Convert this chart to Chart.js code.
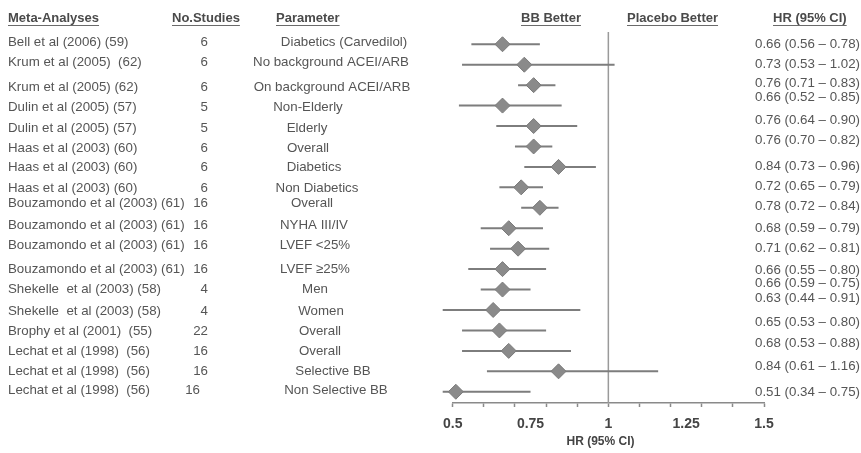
<!DOCTYPE html>
<html>
<head>
<meta charset="utf-8">
<script src="https://cdn.jsdelivr.net/npm/chart.js@4"></script>
<style>
  html, body { margin: 0; padding: 0; background: #ffffff; }
  #wrap { width: 861px; height: 453px; position: relative; }
</style>
</head>
<body>
<div id="wrap"><canvas id="c" width="861" height="453"></canvas></div>
<script>
// ---------- DATA ----------
const studies = [
  "Bell et al (2006) (59)", "Krum et al (2005)  (62)", "Krum et al (2005) (62)",
  "Dulin et al (2005) (57)", "Dulin et al (2005) (57)", "Haas et al (2003) (60)",
  "Haas et al (2003) (60)", "Haas et al (2003) (60)", "Bouzamondo et al (2003) (61)",
  "Bouzamondo et al (2003) (61)", "Bouzamondo et al (2003) (61)", "Bouzamondo et al (2003) (61)",
  "Shekelle  et al (2003) (58)", "Shekelle  et al (2003) (58)", "Brophy et al (2001)  (55)",
  "Lechat et al (1998)  (56)", "Lechat et al (1998)  (56)", "Lechat et al (1998)  (56)"
];
const nStudies = [6, 6, 6, 5, 5, 6, 6, 6, 16, 16, 16, 16, 4, 4, 22, 16, 16, 16];
const parameters = [
  "Diabetics (Carvedilol)", "No background ACEI/ARB", "On background ACEI/ARB",
  "Non-Elderly", "Elderly", "Overall", "Diabetics", "Non Diabetics", "Overall",
  "NYHA III/IV", "LVEF <25%", "LVEF \u226525%", "Men", "Women", "Overall", "Overall",
  "Selective BB", "Non Selective BB"
];
const hr    = [0.66, 0.73, 0.76, 0.66, 0.76, 0.76, 0.84, 0.72, 0.78, 0.68, 0.71, 0.66, 0.66, 0.63, 0.65, 0.68, 0.84, 0.51];
const ciLow = [0.56, 0.53, 0.71, 0.52, 0.64, 0.70, 0.73, 0.65, 0.72, 0.59, 0.62, 0.55, 0.59, 0.44, 0.53, 0.53, 0.61, 0.34];
const ciHigh= [0.78, 1.02, 0.83, 0.85, 0.90, 0.82, 0.96, 0.79, 0.84, 0.79, 0.81, 0.80, 0.75, 0.91, 0.80, 0.88, 1.16, 0.75];
const xTickValues  = [0.5, 0.6, 0.7, 0.75, 0.8, 0.9, 1, 1.1, 1.2, 1.25, 1.3, 1.4, 1.5];
const xTickLabels  = [0.5, 0.75, 1, 1.25, 1.5];
const xAxisTitle = "HR (95% CI)";
const headers = ["Meta-Analyses", "No.Studies", "Parameter", "BB Better", "Placebo Better", "HR (95% CI)"];

// ---------- LAYOUT (text nudges, px) ----------
const headerX = [8, 172, 276, 521, 627, 773];
const leftNudge = [-2, -2, 2, 2, 2, 1.5, 0, 0.5, -4, -3, -3, 0, 0, 1, 0.5, 0, 0, -1];
const hrNudge   = [0, 0, -2, -8, -6, -6.5, -1, -1.5, -1, 0, 0, 1, -6, -12, -8, -8, -4.5, 1];
const paramCenter = [344, 331, 332, 308, 307, 308, 314, 317, 312, 314, 315, 315, 315, 321, 320, 320, 333, 336];
const countRight = [208, 208, 208, 208, 208, 208, 208, 208, 208, 208, 208, 208, 208, 208, 208, 208, 208, 200];

const FONT = '"Liberation Sans", Arial, Helvetica, sans-serif';
const TEXT = '#555555';
const LINE = '#7d7d7d';

const ciDatasets = hr.map((v, i) => ({
  type: 'line',
  data: [{ x: ciLow[i], y: i }, { x: ciHigh[i], y: i }],
  borderColor: LINE,
  borderWidth: 2,
  pointRadius: 0,
  pointHoverRadius: 0,
  clip: { left: 10, right: 0, top: false, bottom: false },
  order: 2
}));

const diamondDataset = {
  type: 'scatter',
  data: hr.map((v, i) => ({ x: v, y: i })),
  pointStyle: 'rectRot',
  pointRadius: 7.5,
  pointHoverRadius: 7.5,
  backgroundColor: '#8a8a8a',
  borderColor: '#7a7a7a',
  borderWidth: 1,
  clip: { left: 10, right: 0, top: false, bottom: false },
  order: 1
};

const textPlugin = {
  id: 'forestText',
  beforeDatasetsDraw(chart) {
    const ctx = chart.ctx;
    const xs = chart.scales.x, a = chart.chartArea;
    ctx.save();
    ctx.strokeStyle = '#9a9a9a';
    ctx.lineWidth = 1.5;
    const x1 = xs.getPixelForValue(1);
    ctx.beginPath();
    ctx.moveTo(x1, a.top);
    ctx.lineTo(x1, a.bottom);
    ctx.stroke();
    ctx.restore();
  },
  afterDraw(chart) {
    const ctx = chart.ctx;
    const ys = chart.scales.y;
    ctx.save();
    // headers
    ctx.font = 'bold 13px ' + FONT;
    ctx.fillStyle = '#4a4a4a';
    ctx.textBaseline = 'middle';
    ctx.textAlign = 'left';
    headers.forEach((h, i) => {
      ctx.fillText(h, headerX[i], 18);
      const w = ctx.measureText(h).width;
      ctx.strokeStyle = '#6a6a6a';
      ctx.lineWidth = 1;
      ctx.beginPath();
      ctx.moveTo(headerX[i], 25.5);
      ctx.lineTo(headerX[i] + w, 25.5);
      ctx.stroke();
    });
    // axis title
    ctx.font = 'bold 12px ' + FONT;
    ctx.fillStyle = '#444444';
    ctx.textAlign = 'center';
    ctx.fillText(xAxisTitle, 600.5, 442);
    // rows
    ctx.font = '13.3px ' + FONT;
    ctx.fillStyle = TEXT;
    studies.forEach((s, i) => {
      const y = ys.getPixelForValue(i);
      const yl = y + leftNudge[i];
      ctx.textAlign = 'left';
      ctx.fillText(s, 8, yl);
      ctx.textAlign = 'right';
      ctx.fillText(String(nStudies[i]), countRight[i], yl);
      ctx.textAlign = 'center';
      ctx.fillText(parameters[i], paramCenter[i], yl);
      ctx.textAlign = 'left';
      const t = hr[i].toFixed(2) + ' (' + ciLow[i].toFixed(2) + ' \u2013 ' + ciHigh[i].toFixed(2) + ')';
      ctx.fillText(t, 755, y + hrNudge[i]);
    });
    ctx.restore();
  }
};

new Chart(document.getElementById('c'), {
  type: 'scatter',
  data: { datasets: [...ciDatasets, diamondDataset] },
  options: {
    responsive: false,
    animation: false,
    devicePixelRatio: 1,
    layout: { padding: { left: 452.7, right: 97, top: 32, bottom: 0 } },
    plugins: { legend: { display: false }, tooltip: { enabled: false } },
    scales: {
      x: {
        type: 'linear',
        min: 0.5,
        max: 1.5,
        afterBuildTicks(scale) { scale.ticks = xTickValues.map(v => ({ value: v })); },
        afterFit(scale) { scale.height = 50; },
        border: { display: true, color: '#8a8a8a', width: 1.5 },
        grid: {
          drawOnChartArea: false,
          drawTicks: true,
          tickLength: 4,
          tickWidth: 1.5,
          tickColor: ctx => {
            const v = ctx.tick ? ctx.tick.value : null;
            return (v === 0.75 || v === 1.25) ? 'rgba(0,0,0,0)' : '#8a8a8a';
          }
        },
        ticks: {
          autoSkip: false,
          maxRotation: 0,
          padding: 9,
          color: '#444444',
          font: { family: FONT, size: 14, weight: 'bold' },
          callback: v => xTickLabels.includes(v) ? String(v) : ''
        },
        title: { display: false }
      },
      y: {
        type: 'linear',
        reverse: true,
        min: -0.6,
        max: 17.55,
        display: false
      }
    }
  },
  plugins: [textPlugin]
});
</script>
</body>
</html>
